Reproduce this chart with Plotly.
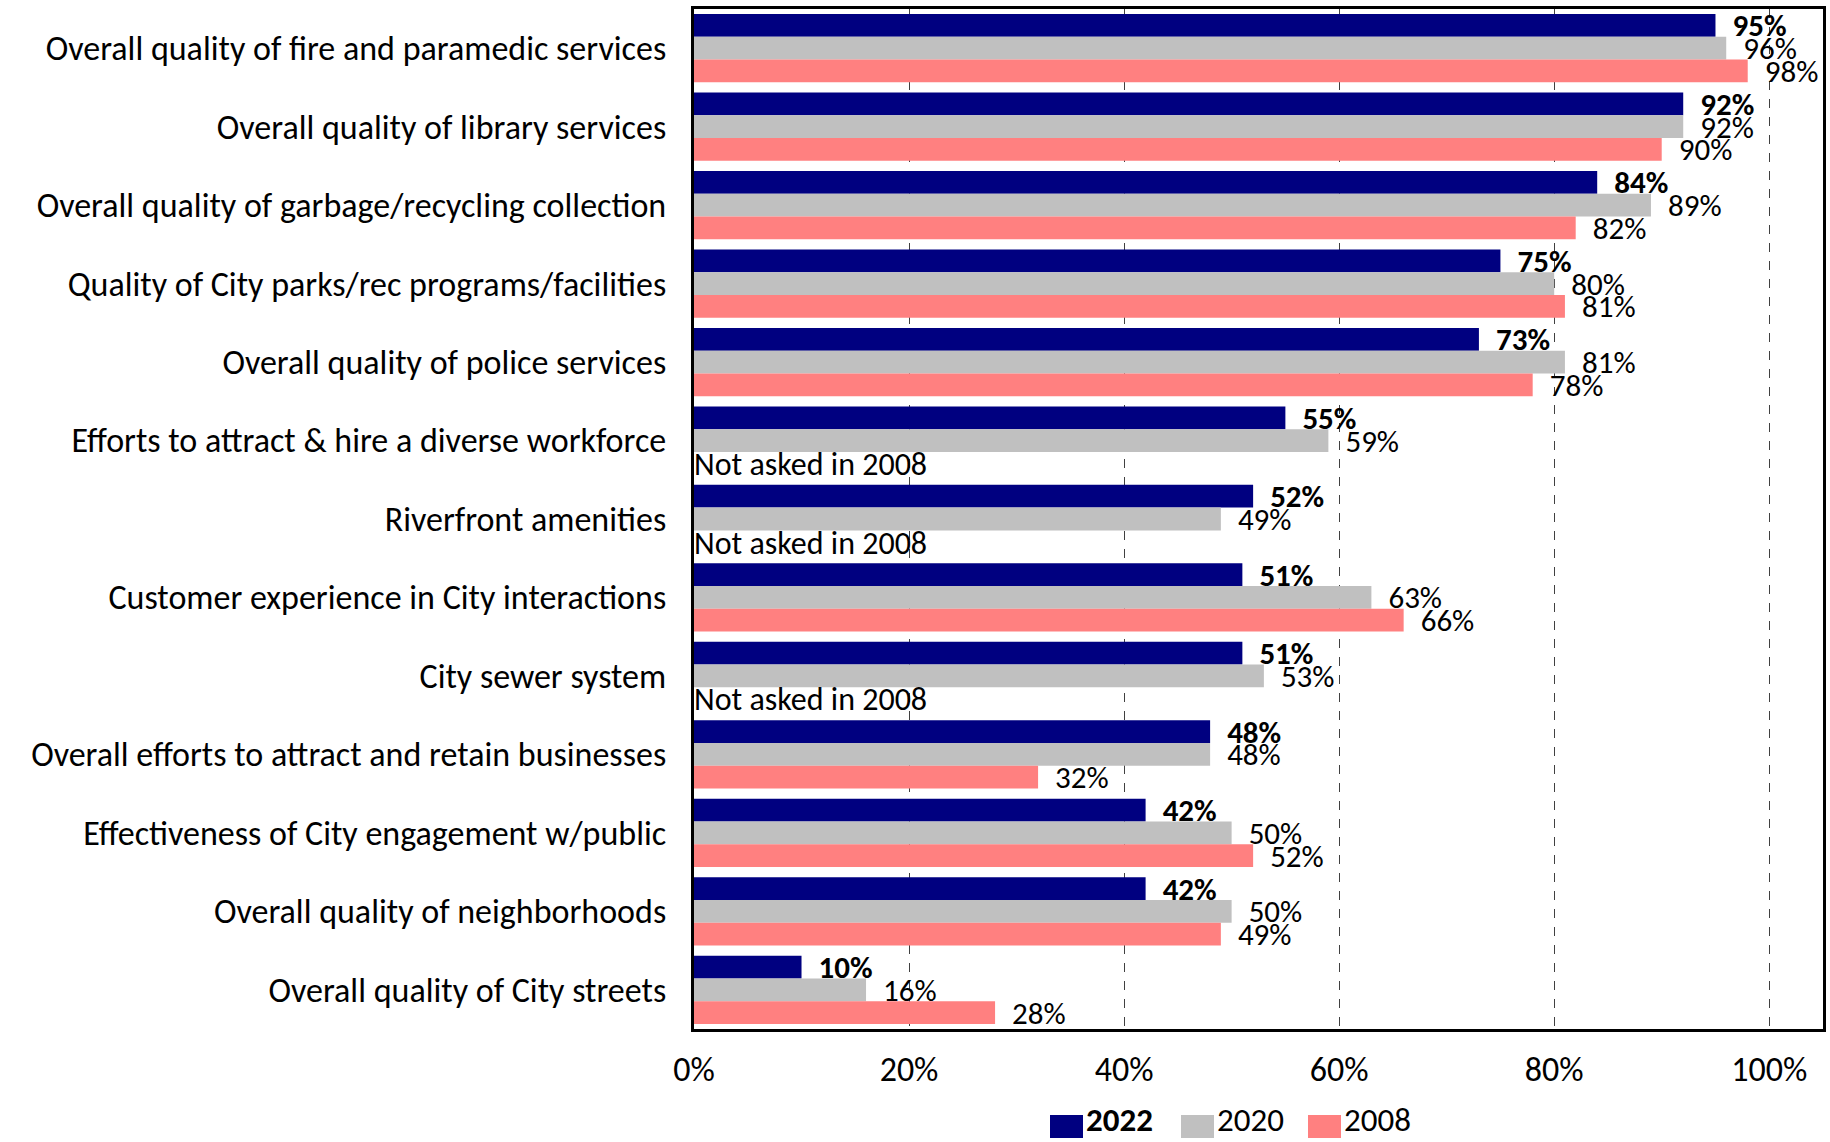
import plotly.graph_objects as go

categories = [
    "Overall quality of fire and paramedic services",
    "Overall quality of library services",
    "Overall quality of garbage/recycling collection",
    "Quality of City parks/rec programs/facilities",
    "Overall quality of police services",
    "Efforts to attract & hire a diverse workforce",
    "Riverfront amenities",
    "Customer experience in City interactions",
    "City sewer system",
    "Overall efforts to attract and retain businesses",
    "Effectiveness of City engagement w/public",
    "Overall quality of neighborhoods",
    "Overall quality of City streets",
]
v2022 = [95, 92, 84, 75, 73, 55, 52, 51, 51, 48, 42, 42, 10]
v2020 = [96, 92, 89, 80, 81, 59, 49, 63, 53, 48, 50, 50, 16]
v2008 = [98, 90, 82, 81, 78, None, None, 66, None, 32, 52, 49, 28]
series_names = ["2022", "2020", "2008"]
series_colors = ["#000080", "#C0C0C0", "#FF8080"]
not_asked_text = "Not asked in 2008"
x_tickvals = [0, 20, 40, 60, 80, 100]
x_ticktext = ["0%", "20%", "40%", "60%", "80%", "100%"]

FONT = "Carlito, Calibri, Lato, 'Open Sans', sans-serif"
NB = "\u00a0\u00a0"

W, H = 1830, 1142
ML, MR, MT, MB = 694, 7, 9, 113
PW, PH = W - ML - MR, H - MT - MB

fig = go.Figure()
for i, (name, vals, color) in enumerate(zip(series_names, [v2022, v2020, v2008], series_colors)):
    bold = i == 0
    texts = []
    for v in vals:
        if v is None:
            texts.append("")
        elif bold:
            texts.append(f"{NB}<b>{v}%</b>")
        else:
            texts.append(f"{NB}{v}%")
    fig.add_trace(go.Bar(
        y=categories, x=vals, name=name, orientation="h",
        marker=dict(color=color, line=dict(width=0)),
        text=texts, textposition="outside", cliponaxis=False,
        constraintext="none",
        textfont=dict(family=FONT, size=31, color="black"),
        hoverinfo="skip", showlegend=False,
    ))

for cat, v in zip(categories, v2008):
    if v is None:
        fig.add_annotation(
            x=0, y=cat, xref="x", yref="y", text=not_asked_text,
            showarrow=False, xanchor="left", yanchor="middle", yshift=-24,
            xshift=-2,
            font=dict(family=FONT, size=32, color="black"),
        )

# Manual legend (large square swatches like the reference)
def px_x(p):
    return (p - ML) / PW

def px_y(p):
    return (H - MB - p) / PH

legend_x = [1050, 1181, 1308]
sw_w, sw_top, sw_bot = 33, 1115, 1138
for i, (name, color) in enumerate(zip(series_names, series_colors)):
    x0 = legend_x[i]
    fig.add_shape(type="rect", xref="paper", yref="paper",
                  x0=px_x(x0), x1=px_x(x0 + sw_w),
                  y0=px_y(sw_bot), y1=px_y(sw_top),
                  fillcolor=color, line=dict(width=0))
    label = f"<b>{name}</b>" if i == 0 else name
    fig.add_annotation(xref="paper", yref="paper",
                       x=px_x(x0 + sw_w + 2), y=px_y(1120),
                       xanchor="left", yanchor="middle", showarrow=False,
                       borderpad=0,
                       text=label, font=dict(family=FONT, size=33, color="black"))

fig.update_layout(
    width=W, height=H,
    margin=dict(l=ML, r=MR, t=MT, b=MB, autoexpand=False),
    paper_bgcolor="white", plot_bgcolor="white",
    barmode="group", bargap=0.13, bargroupgap=0,
    font=dict(family=FONT, size=31, color="black"),
    showlegend=False,
)
fig.update_xaxes(
    range=[0, 105], tickvals=x_tickvals, ticktext=x_ticktext,
    showgrid=True, gridcolor="#404040", griddash="dash", gridwidth=1,
    zeroline=False, showline=True, linecolor="black", linewidth=3,
    mirror=True, ticks="", ticklabelstandoff=8, automargin=False,
    tickfont=dict(family=FONT, size=34),
)
fig.update_yaxes(
    autorange="reversed", showgrid=False, zeroline=False,
    showline=True, linecolor="black", linewidth=3, mirror=True,
    ticks="", ticklabelstandoff=18, automargin=False,
    tickfont=dict(family=FONT, size=34),
)

fig.write_html("out.html", config={"displayModeBar": False},
               post_script="document.body.style.margin='0';document.body.style.overflow='hidden';")
